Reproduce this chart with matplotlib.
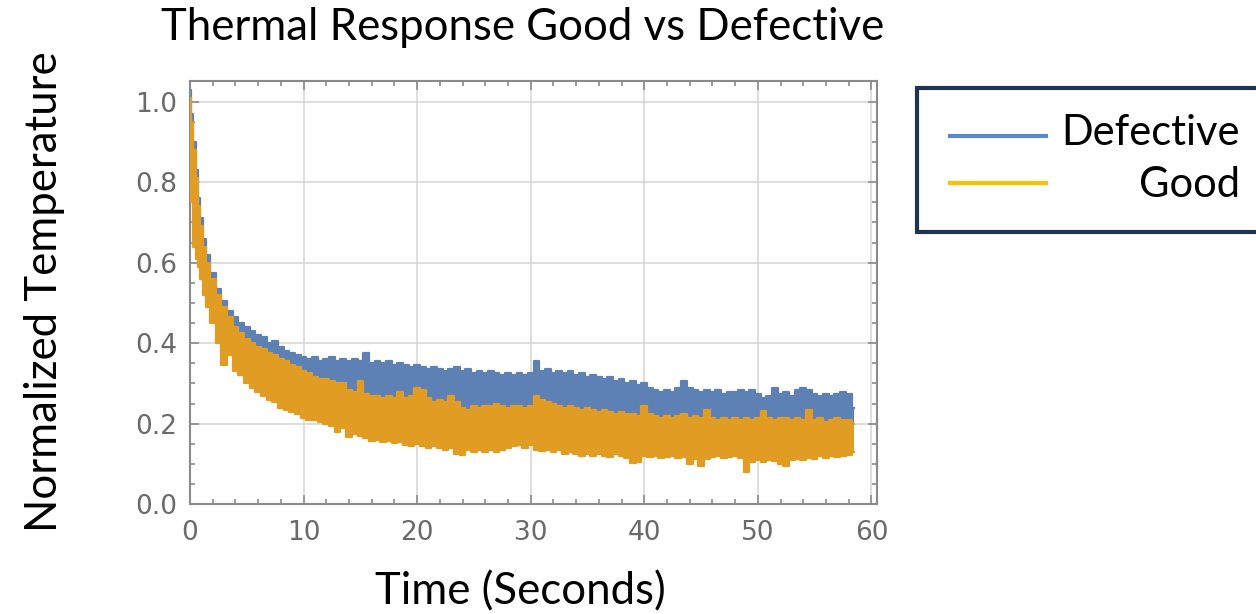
import numpy as np
import matplotlib
matplotlib.use("Agg")
import matplotlib.pyplot as plt
from matplotlib.patches import Rectangle
from matplotlib.lines import Line2D

# -------------------------
# Data (band edges)
# -------------------------
t_early = [0.0, 0.2, 0.4, 0.6, 0.8, 1.0, 1.3, 1.6, 2.0, 2.5, 3.0, 3.5]
time = np.concatenate([t_early, np.arange(4.0, 59.0, 0.5)])

defective_hi = [1.03, 0.97, 0.90, 0.83, 0.76, 0.71, 0.66, 0.62, 0.575, 0.535, 0.505, 0.48,
    0.465, 0.45, 0.44, 0.43, 0.42, 0.415, 0.40, 0.405, 0.39, 0.38,
    0.375, 0.37, 0.365, 0.36, 0.365, 0.355, 0.36, 0.365, 0.355, 0.36,
    0.355, 0.36, 0.355, 0.375, 0.35, 0.355, 0.35, 0.355, 0.345, 0.35,
    0.345, 0.34, 0.345, 0.34, 0.335, 0.34, 0.335, 0.33, 0.335, 0.34,
    0.33, 0.335, 0.325, 0.33, 0.325, 0.33, 0.325, 0.32, 0.325, 0.32,
    0.325, 0.32, 0.325, 0.355, 0.33, 0.335, 0.325, 0.33, 0.325, 0.33,
    0.32, 0.325, 0.315, 0.32, 0.315, 0.31, 0.315, 0.305, 0.31, 0.30,
    0.305, 0.295, 0.30, 0.29, 0.285, 0.28, 0.285, 0.28, 0.29, 0.305,
    0.29, 0.285, 0.28, 0.285, 0.28, 0.285, 0.275, 0.28, 0.28, 0.285,
    0.28, 0.285, 0.275, 0.265, 0.27, 0.29, 0.275, 0.28, 0.27, 0.285,
    0.29, 0.285, 0.275, 0.27, 0.275, 0.27, 0.275, 0.28, 0.275, 0.24]

defective_lo = [0.92, 0.78, 0.67, 0.63, 0.60, 0.57, 0.53, 0.50, 0.47, 0.43, 0.40, 0.39,
    0.37, 0.36, 0.35, 0.34, 0.33, 0.32, 0.31, 0.30, 0.295, 0.29,
    0.28, 0.275, 0.27, 0.265, 0.26, 0.26, 0.255, 0.255, 0.25, 0.25,
    0.245, 0.245, 0.24, 0.24, 0.235, 0.235, 0.235, 0.23, 0.23, 0.23,
    0.225, 0.225, 0.225, 0.22, 0.22, 0.22, 0.215, 0.215, 0.215, 0.21,
    0.21, 0.21, 0.21, 0.205, 0.205, 0.205, 0.205, 0.20, 0.20, 0.20,
    0.20, 0.20, 0.20, 0.20, 0.20, 0.20, 0.195, 0.195, 0.195, 0.195,
    0.195, 0.19, 0.19, 0.19, 0.19, 0.185, 0.185, 0.185, 0.185, 0.18,
    0.18, 0.18, 0.18, 0.18, 0.175, 0.175, 0.175, 0.175, 0.175, 0.17,
    0.17, 0.17, 0.17, 0.17, 0.17, 0.165, 0.165, 0.165, 0.165, 0.165,
    0.165, 0.165, 0.16, 0.16, 0.16, 0.16, 0.16, 0.16, 0.16, 0.16,
    0.16, 0.16, 0.16, 0.155, 0.155, 0.155, 0.155, 0.155, 0.155, 0.16]

good_hi = [1.01, 0.95, 0.88, 0.81, 0.74, 0.69, 0.64, 0.60, 0.56, 0.52, 0.49, 0.465,
    0.44, 0.425, 0.41, 0.40, 0.39, 0.385, 0.375, 0.37, 0.36, 0.355,
    0.345, 0.34, 0.33, 0.325, 0.315, 0.31, 0.31, 0.305, 0.30, 0.30,
    0.285, 0.28, 0.305, 0.275, 0.27, 0.27, 0.265, 0.27, 0.265, 0.28,
    0.265, 0.27, 0.29, 0.285, 0.265, 0.255, 0.26, 0.255, 0.27, 0.255,
    0.24, 0.235, 0.245, 0.24, 0.245, 0.245, 0.25, 0.245, 0.24, 0.245,
    0.245, 0.24, 0.245, 0.27, 0.26, 0.255, 0.25, 0.245, 0.24, 0.245,
    0.24, 0.235, 0.24, 0.235, 0.23, 0.235, 0.23, 0.225, 0.23, 0.225,
    0.225, 0.22, 0.245, 0.225, 0.22, 0.215, 0.22, 0.215, 0.22, 0.225,
    0.215, 0.22, 0.215, 0.235, 0.215, 0.21, 0.215, 0.21, 0.215, 0.21,
    0.215, 0.21, 0.215, 0.232, 0.215, 0.21, 0.215, 0.215, 0.21, 0.215,
    0.21, 0.235, 0.21, 0.215, 0.205, 0.21, 0.215, 0.21, 0.21, 0.20]

good_lo = [0.90, 0.75, 0.64, 0.61, 0.59, 0.56, 0.52, 0.49, 0.45, 0.40, 0.345, 0.37,
    0.33, 0.32, 0.30, 0.29, 0.28, 0.27, 0.26, 0.255, 0.24, 0.235,
    0.23, 0.225, 0.215, 0.21, 0.21, 0.205, 0.20, 0.195, 0.18, 0.19,
    0.168, 0.175, 0.17, 0.165, 0.158, 0.16, 0.155, 0.158, 0.152, 0.155,
    0.148, 0.145, 0.15, 0.145, 0.14, 0.145, 0.14, 0.135, 0.14, 0.125,
    0.122, 0.135, 0.13, 0.135, 0.13, 0.135, 0.13, 0.135, 0.14, 0.145,
    0.148, 0.14, 0.148, 0.135, 0.132, 0.135, 0.13, 0.135, 0.125, 0.13,
    0.125, 0.12, 0.125, 0.12, 0.125, 0.12, 0.118, 0.125, 0.12, 0.115,
    0.103, 0.105, 0.12, 0.118, 0.12, 0.115, 0.118, 0.12, 0.115, 0.118,
    0.10, 0.112, 0.095, 0.112, 0.118, 0.12, 0.115, 0.118, 0.12, 0.115,
    0.08, 0.105, 0.11, 0.105, 0.11, 0.108, 0.10, 0.095, 0.11, 0.112,
    0.11, 0.115, 0.112, 0.12, 0.115, 0.12, 0.118, 0.12, 0.122, 0.13]

x_ticks = [0, 10, 20, 30, 40, 50, 60]
y_ticks = [0.0, 0.2, 0.4, 0.6, 0.8, 1.0]
y_tick_labels = ["0.0", "0.2", "0.4", "0.6", "0.8", "1.0"]

BLUE = "#5e81b5"
ORANGE = "#e19c24"
TEXT_FONT = "Lato"

# -------------------------
# Figure
# -------------------------
fig = plt.figure(figsize=(12.56, 6.14), dpi=100)
ax = fig.add_axes([0.1513, 0.1787, 0.547, 0.6899])

# Defective band (only its upper edge shows above the Good band)
ax.fill_between(time, defective_lo, defective_hi, step="mid", color=BLUE,
                lw=0, antialiased=False, zorder=2)
ax.plot(time, defective_hi, drawstyle="steps-mid", color=BLUE, lw=1.6, zorder=2.1)

# Good band
ax.fill_between(time, good_lo, good_hi, step="mid", color=ORANGE,
                lw=0, antialiased=False, zorder=3)
ax.plot(time, good_hi, drawstyle="steps-mid", color=ORANGE, lw=1.6, zorder=3.1)
ax.plot(time, good_lo, drawstyle="steps-mid", color=ORANGE, lw=1.6, zorder=3.1)

ax.set_xlim(0, 60.5)
ax.set_ylim(0, 1.052)
ax.set_xticks(x_ticks)
ax.set_xticks(np.arange(0, 61, 2), minor=True)
ax.set_yticks(y_ticks)
ax.set_yticklabels(y_tick_labels)
ax.set_yticks(np.arange(0, 1.05, 0.05), minor=True)

ax.grid(True, which="major", color="#d4d4d4", lw=1.1, zorder=0)
ax.set_axisbelow(True)
ax.tick_params(which="both", direction="in", top=True, right=True,
               color="#8a8a8a", width=1.2)
ax.tick_params(which="major", length=6.5, labelsize=19, labelcolor="#6a6a6a")
ax.tick_params(axis="x", which="major", pad=11)
ax.tick_params(axis="y", which="major", pad=9)
ax.tick_params(which="minor", length=3.6)
for s in ax.spines.values():
    s.set_color("#8a8a8a")
    s.set_linewidth(1.5)

fig.text(523 / 1256, 1 - 28 / 614, "Thermal Response Good vs Defective",
         fontsize=31.5, family=TEXT_FONT, ha="center", va="center")
fig.text(45 / 1256, 1 - 292 / 614, "Normalized Temperature", rotation=90,
         fontsize=31.5, family=TEXT_FONT, ha="center", va="center")
fig.text(520 / 1256, 1 - 592 / 614, "Time (Seconds)",
         fontsize=31.5, family=TEXT_FONT, ha="center", va="center")

# legend box (runs off the right edge like the original)
fig.patches.append(Rectangle((917 / 1256, 1 - 232 / 614), 0.35, 144 / 614,
                             transform=fig.transFigure, facecolor="white",
                             edgecolor="#1f344f", lw=3, zorder=5))
fig.lines.append(Line2D([950 / 1256, 1046 / 1256], [1 - 136 / 614] * 2,
                        transform=fig.transFigure, color="#5a89c8", lw=3, zorder=6))
fig.lines.append(Line2D([950 / 1256, 1046 / 1256], [1 - 183 / 614] * 2,
                        transform=fig.transFigure, color="#ffc000", lw=3, zorder=6))
fig.text(1240 / 1256, 1 - 133 / 614, "Defective", fontsize=30, family=TEXT_FONT,
         ha="right", va="center", zorder=7)
fig.text(1240 / 1256, 1 - 185 / 614, "Good", fontsize=30, family=TEXT_FONT,
         ha="right", va="center", zorder=7)

plt.savefig("out.png", dpi=100)
